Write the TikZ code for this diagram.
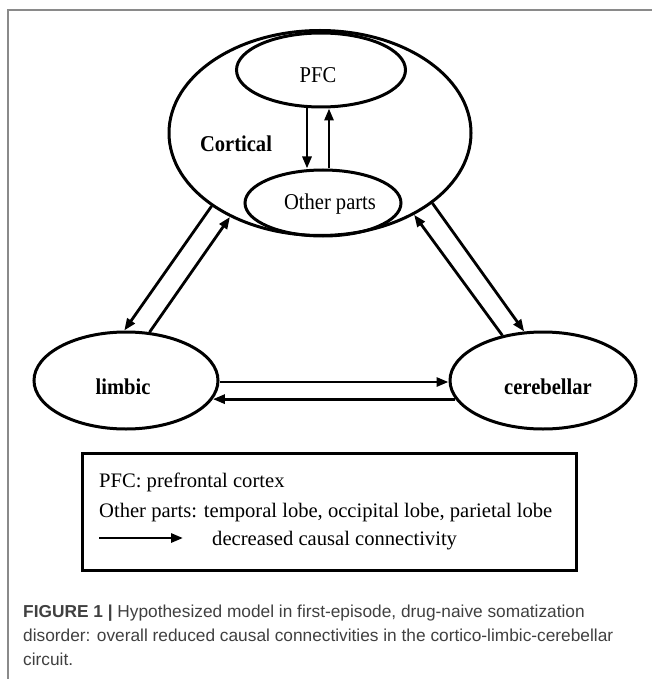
\documentclass[tikz,border=0pt]{standalone}
\usepackage{fontspec}
\setmainfont{Liberation Serif}
\newfontfamily\tallserif[FakeStretch=0.91]{Liberation Serif}
\newfontfamily\captionfont{Liberation Sans}
\usetikzlibrary{arrows.meta,positioning,shapes.geometric,calc}
\definecolor{framegray}{HTML}{8A8A8A}
\definecolor{captiongray}{HTML}{404040}
\tikzset{
    region/.style={ellipse,draw,line width=3pt,inner sep=0pt},
    region text/.style={font=\tallserif\fontsize{22.6}{26}\selectfont},
    region label/.style={font=\tallserif\fontsize{22.6}{26}\selectfont\bfseries},
    arr/.style={-{Triangle[length=12pt,width=9pt]},line width=2.8pt},
    legend box/.style={draw,line width=3pt,inner sep=0pt},
    legend text/.style={anchor=base west,inner sep=0pt,font=\fontsize{20.6}{24}\selectfont},
    caption text/.style={anchor=base west,inner sep=0pt,text=captiongray,font=\captionfont\fontsize{17.3}{24}\selectfont},
    frame line/.style={framegray,line width=2pt},
}

\begin{document}
\begin{tikzpicture}[x=1pt,y=-1pt]
    \useasboundingbox (0,0) rectangle (652,679);
    \draw[frame line] (8,679) -- (8,10) -- (652,10);

    % cortex with its two parts
    \node[region, minimum width=302pt, minimum height=205pt] (cortical) at (320,133) {};
    \node[region, minimum width=169pt, minimum height=74pt] (pfc) at (321,70) {};
    \node[region, minimum width=156pt, minimum height=66pt] (other) at (323,203) {};
    \node[region label] (corticaltext) at (236,144) {Cortical};
    \node[region text] (pfctext) at (318,75) {PFC};
    \node[region text] (othertext) at (330,204) {Other parts};

    \draw[arr] ([xshift=-14pt]pfc.south) -- ([xshift=-14pt]pfc.south |- other.north);
    \draw[arr] ([xshift=8pt]pfc.south |- other.north) -- ([xshift=8pt]pfc.south);

    % limbic and cerebellar
    \node[region, minimum width=184pt, minimum height=97pt] (limbic) at (126,380.5) {};
    \node[region, minimum width=186pt, minimum height=97pt] (cerebellar) at (543,380.5) {};
    \node[region label] (limbictext) at (123,387) {limbic};
    \node[region label] (cerebellartext) at (548,387) {cerebellar};

    \draw[arr] (cortical.214) -- (limbic.92);
    \draw[arr] (limbic.64) -- (cortical.223);
    \draw[arr] (cerebellar.132) -- (cortical.319);
    \draw[arr] (cortical.328) -- (cerebellar.111);
    \draw[arr] ([yshift=-1.5pt]limbic.east) -- ([yshift=-1.5pt]limbic.east -| cerebellar.west);
    \draw[arr] (cerebellar.192) -- (cerebellar.192 -| limbic.348);

    % legend
    \node[legend box, minimum width=494pt, minimum height=117pt] (legend) at (329.5,512) {};
    \node[legend text] (pfcdef) at (99,487) {PFC: prefrontal cortex};
    \node[legend text] (otherdef) at (99,517) {Other parts: temporal lobe, occipital lobe, parietal lobe};
    \coordinate (keystart) at (99,538);
    \coordinate (keyend) at (183,538);
    \draw[arr] (keystart) -- (keyend);
    \node[legend text] (keydef) at (212,545) {decreased causal connectivity};

    % caption
    \node[caption text] (cap1) at (23,617) {\textbf{FIGURE 1 |} Hypothesized model in first-episode, drug-naive somatization};
    \node[caption text] (cap2) at (23,641) {disorder: overall reduced causal connectivities in the cortico-limbic-cerebellar};
    \node[caption text] (cap3) at (23,665) {circuit.};
\end{tikzpicture}
\end{document}
